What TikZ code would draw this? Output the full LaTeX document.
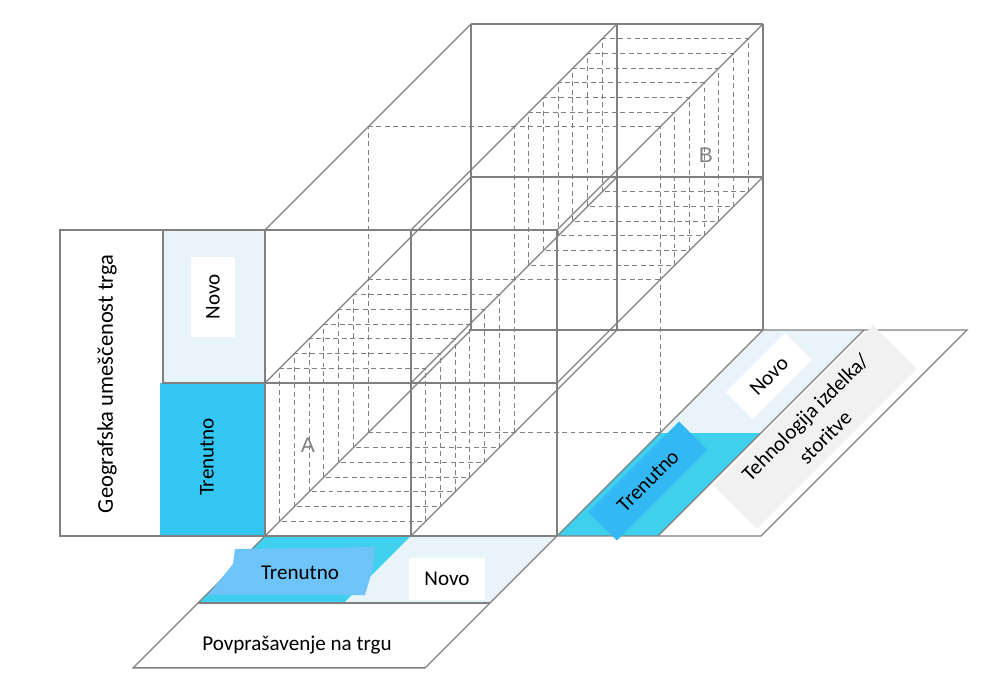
\documentclass[tikz,border=0pt]{standalone}
\usepackage{fontspec}
\setmainfont{Carlito}
\newfontfamily\letterfont{Liberation Sans}
\usepackage{xcolor}
\usetikzlibrary{calc,positioning}

\definecolor{cellcyan}{RGB}{52,198,242}
\definecolor{stripcyan}{RGB}{62,208,236}
\definecolor{tagblue}{RGB}{110,196,248}
\definecolor{tagcyan}{RGB}{52,184,244}
\definecolor{cellpale}{RGB}{232,244,250}
\definecolor{tagpale}{RGB}{241,241,241}
\definecolor{edgegray}{RGB}{128,128,128}

\begin{document}
\begin{tikzpicture}[x={(0.025cm,0cm)}, y={(0cm,-0.025cm)}, z={(2.575cm,2.575cm)}]
		\tikzstyle{every node}=[font=\fontsize{15}{20}\selectfont, text=black, inner sep=0pt]
		\tikzstyle{edge}=[line width=0.9pt, draw=edgegray]
		\tikzstyle{hidden}=[line width=0.7pt, draw=edgegray, dash pattern=on 3.5pt off 2.5pt]
		\tikzstyle{tagbox}=[fill=white]
		\useasboundingbox (0,0) rectangle (982,675);
		% corners of the 2x2x2 cube
		\foreach \i in {0,1,2}
			\foreach \j in {0,1,2}
				\foreach \k in {0,1,2}
					\coordinate (c\i\j\k) at ({265+146*\i},{536-153*\j},\k);
		% left panel
		\fill [cellpale] (163,230) rectangle (265,383);
		\fill [cellcyan] (160,383) rectangle (265,536);
		\draw [edge] (60,230) rectangle (265,536);
		\draw [edge] (163,230) -- (163,383) -- (265,383);
		% bottom panel
		\fill [stripcyan] (c000) -- (c100) -- (411,536,-0.65) -- (265,536,-0.65) -- cycle;
		\fill [cellpale] (c100) -- (c200) -- (557,536,-0.65) -- (411,536,-0.65) -- cycle;
		\draw [edge] (c000) -- (265,536,-1.28) -- (557,536,-1.28) -- (c200);
		\draw [edge] (265,536,-0.65) -- (557,536,-0.65);
		% right panel
		\fill [stripcyan] (c200) -- (658,536,0) -- (658,536,1) -- (c201) -- cycle;
		\fill [cellpale] (c201) -- (658,536,1) -- (658,536,2) -- (c202) -- cycle;
		\draw [edge] (c202) -- (761,536,2) -- (761,536,0) -- (c200);
		\draw [edge] (658,536,0) -- (658,536,2);
		% front and back faces
		\foreach \k in {0,2}
			\foreach \t in {0,1,2} {
				\draw [edge] (c0\t\k) -- (c2\t\k);
				\draw [edge] (c\t0\k) -- (c\t2\k);
			}
		\foreach \i in {0,1,2}
			\foreach \j in {0,1,2}
				\draw [edge] (c\i\j0) -- (c\i\j2);
		% middle layer and the slices of A and B
		\foreach \t in {0,1,2} {
			\draw [hidden] (c0\t1) -- (c2\t1);
			\draw [hidden] (c\t01) -- (c\t21);
		}
		\foreach \k in {1,...,6} {
			\draw [hidden] (265,536,{\k/7}) rectangle (411,383,{\k/7});
			\draw [hidden] (411,383,{1+\k/7}) rectangle (557,230,{1+\k/7});
		}
		% labels
		\node [rotate=90, font=\fontsize{16}{20}\selectfont] (geo) at (107,384) {Geografska umeščenost trga};
		\node [tagbox, rotate=90, minimum width=2cm, minimum height=1.075cm] (novoG) at (213,297) {Novo};
		\node [rotate=90] (trenG) at (207,457) {Trenutno};
		\fill [tagblue] (235,549) -- (375,547) -- (373,568) -- (365,595) -- (208,595) -- (233,564) -- cycle;
		\node (trenP) at (300,573) {Trenutno};
		\node [tagbox, minimum width=1.875cm, minimum height=1.05cm] (novoP) at (447,579) {Novo};
		\node (povp) at (297,645) {Povprašavenje na trgu};
		\node [rotate=45, fill=tagcyan, minimum width=3.2cm, minimum height=1cm] (trenT) at (648,481) {Trenutno};
		\node [tagbox, rotate=45, minimum width=2.1cm, minimum height=0.95cm] (novoT) at (769,376) {Novo};
		\node [rotate=45, fill=tagpale, minimum width=5.65cm, minimum height=1.55cm, align=center] (tech) at (815,427) {Tehnologija izdelka/\\storitve};
		\node [text=gray, font=\letterfont\fontsize{15}{18}\selectfont] (A) at (308,445) {A};
		\node [text=gray, font=\letterfont\fontsize{15}{18}\selectfont] (B) at (706,155) {B};
		\end{tikzpicture}
\end{document}
